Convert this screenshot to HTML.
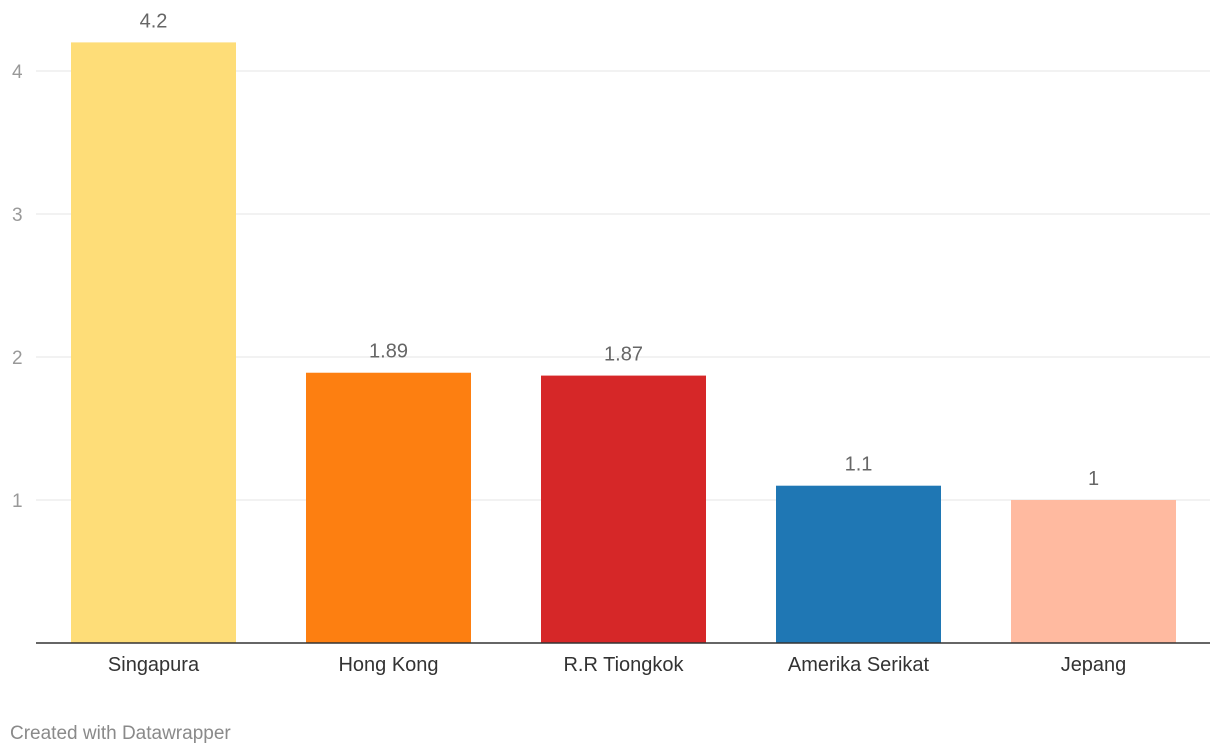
<!DOCTYPE html>
<html><head><meta charset="utf-8"><style>
html,body{margin:0;padding:0;background:#fff;width:1220px;height:756px;overflow:hidden;font-family:"Liberation Sans",Arial,sans-serif}
</style></head><body>
<svg id="chart" width="1220" height="756" xmlns="http://www.w3.org/2000/svg" font-family="Liberation Sans, Arial, sans-serif"></svg>
<script>
const categories=["Singapura","Hong Kong","R.R Tiongkok","Amerika Serikat","Jepang"];
const values=[4.2,1.89,1.87,1.1,1];
const valueLabels=["4.2","1.89","1.87","1.1","1"];
const colors=["#fedd78","#fd7f11","#d62728","#1f77b4","#ffbaa0"];
const ticks=[1,2,3,4];
const NS="http://www.w3.org/2000/svg";
const svg=document.getElementById('chart');
const y0=643,unit=143,x0=36,x1=1210,barStart=71,step=235,barW=165;
const y=v=>y0-v*unit;
const x=i=>barStart+i*step;
function mk(tag,attrs,text){const e=document.createElementNS(NS,tag);for(const k in attrs)e.setAttribute(k,attrs[k]);if(text!==undefined)e.textContent=text;svg.appendChild(e);return e;}
ticks.forEach(t=>{
  const g=mk('line',{x1:x0,x2:x1,y1:y(t),y2:y(t),stroke:'#e4e4e4','stroke-width':1});
  
  
  const l=mk('text',{x:12,y:y(t)+7,'font-size':19,fill:'#999'},String(t));
  
  
});
values.forEach((v,i)=>{
  const r=mk('rect',{x:x(i),y:y(v),width:barW,height:y0-y(v),fill:colors[i]});
  
  
  const t=mk('text',{x:x(i)+barW/2,y:y(v)-15,'text-anchor':'middle','font-size':20,fill:'#666'},valueLabels[i]);
  
  
  const c=mk('text',{x:x(i)+barW/2,y:671,'text-anchor':'middle','font-size':20,fill:'#333'},categories[i]);
  
  
});
const ax=mk('line',{x1:x0,x2:x1,y1:y0,y2:y0,stroke:'#333','stroke-width':1.5});


const f=mk('text',{x:10,y:739,'font-size':19,fill:'#8a8a8a'},'Created with Datawrapper');


</script>
</body></html>
